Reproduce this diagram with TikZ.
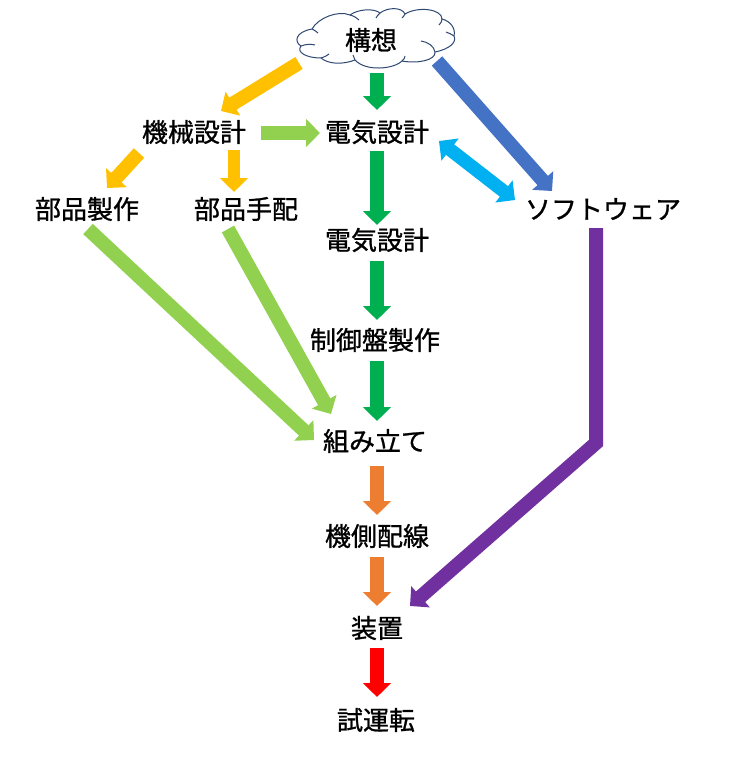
\documentclass[tikz,border=0pt]{standalone}
\usepackage{fontspec}
\setmainfont{Noto Sans CJK JP}[FakeBold=1]
\usetikzlibrary{arrows.meta}
\definecolor{cyellow}{RGB}{255,192,0}
\definecolor{cgreen}{RGB}{0,176,80}
\definecolor{clime}{RGB}{146,208,80}
\definecolor{cblue}{RGB}{68,114,196}
\definecolor{csky}{RGB}{0,176,240}
\definecolor{cpurple}{RGB}{112,48,160}
\definecolor{corange}{RGB}{237,125,49}
\definecolor{cred}{RGB}{255,0,0}
\definecolor{cloudline}{RGB}{47,72,115}
\tikzset{
  x=0.75pt,y=-0.75pt,
  label text/.style={inner sep=0pt,font=\fontsize{19.5pt}{22pt}\selectfont,text=black},
  fat arrow/.style={line width=10.5pt,line join=miter,-{Triangle[length=10.5pt,width=20.5pt]}},
  fat both/.style={line width=10pt,{Triangle[length=10.5pt,width=20.5pt]}-{Triangle[length=10.5pt,width=20.5pt]}},
  cloud line/.style={draw=cloudline,line width=0.75pt,fill=white}
}
\begin{document}
\begin{tikzpicture}
\useasboundingbox (0,0) rectangle (746,758);
% cloud
\filldraw[cloud line] (312,29)
  .. controls (318,18) and (338,10) .. (350,15)
  .. controls (358,9) and (374,8) .. (380,13)
  .. controls (388,7) and (402,7) .. (405,14)
  .. controls (418,6) and (442,9) .. (442,19)
  .. controls (450,21) and (456,28) .. (454,36)
  .. controls (457,42) and (450,49) .. (435,52)
  .. controls (436,60) and (418,64) .. (402,61)
  .. controls (394,69) and (366,72) .. (355,60)
  .. controls (342,65) and (328,64) .. (321,58)
  .. controls (306,58) and (296,52) .. (301,46)
  .. controls (294,42) and (295,32) .. (312,29) -- cycle;
\draw[cloud line,fill=none] (312,29) .. controls (314,30) and (316,31) .. (318,33);
\draw[cloud line,fill=none] (301,46) .. controls (306,44) and (311,44) .. (315,45);
\draw[cloud line,fill=none] (321,58) .. controls (324,57) and (327,56) .. (329,54);
\draw[cloud line,fill=none] (355,60) .. controls (354,58) and (354,57) .. (353,55);
\draw[cloud line,fill=none] (402,61) .. controls (404,59) and (405,58) .. (405,56);
\draw[cloud line,fill=none] (435,52) .. controls (434,46) and (428,42) .. (421,41);
\draw[cloud line,fill=none] (454,36) .. controls (451,34) and (449,33) .. (446,32);
\draw[cloud line,fill=none] (442,19) .. controls (442,21) and (441,23) .. (439,25);
\draw[cloud line,fill=none] (405,14) .. controls (404,16) and (403,17) .. (402,18);
\draw[cloud line,fill=none] (380,13) .. controls (378,15) and (377,16) .. (376,18);
\draw[cloud line,fill=none] (350,15) .. controls (354,16) and (357,18) .. (359,20);
% nodes
\node[label text] (kousou) at (371,40) {構想};
\node[label text] (kikai) at (194,132) {機械設計};
\node[label text] (denki) at (377,132) {電気設計};
\node[label text] (seisaku) at (87,209) {部品製作};
\node[label text] (tehai) at (246,209) {部品手配};
\node[label text] (soft) at (603,209) {ソフトウェア};
\node[label text] (denki2) at (377,240) {電気設計};
\node[label text] (seigyo) at (375,340) {制御盤製作};
\node[label text] (kumi) at (375,441) {組み立て};
\node[label text] (kisoku) at (377,536) {機側配線};
\node[label text] (souchi) at (377,628) {装置};
\node[label text] (shiunten) at (376,720) {試運転};
% connectors: (offsets in px from node centres)
\draw[fat arrow,cyellow] ([shift={(-72,23)}]kousou.center) -- ([shift={(27,-21)}]kikai.center);
\draw[fat arrow,cgreen] ([shift={(6,33)}]kousou.center) -- ([shift={(0,-22)}]denki.center);
\draw[fat arrow,cblue] ([shift={(66,21)}]kousou.center) -- ([shift={(-51,-18)}]soft.center);
\draw[fat arrow,cyellow] ([shift={(-55,21)}]kikai.center) -- ([shift={(20,-21)}]seisaku.center);
\draw[fat arrow,cyellow,line width=9pt] ([shift={(40,18)}]kikai.center) -- ([shift={(-12,-17)}]tehai.center);
\draw[fat arrow,clime] ([shift={(67,1)}]kikai.center) -- ([shift={(-57,1)}]denki.center);
\draw[fat both,csky] ([shift={(62,9)}]denki.center) -- ([shift={(-88,-9)}]soft.center);
\draw[fat arrow,cgreen] ([shift={(0,19)}]denki.center) -- ([shift={(0,-15)}]denki2.center);
\draw[fat arrow,cgreen] ([shift={(0,21)}]denki2.center) -- ([shift={(2,-20)}]seigyo.center);
\draw[fat arrow,cgreen] ([shift={(2,21)}]seigyo.center) -- ([shift={(2,-20)}]kumi.center);
\draw[fat arrow,clime] ([shift={(1,20)}]seisaku.center) -- ([shift={(-61,-1)}]kumi.center);
\draw[fat arrow,clime] ([shift={(-18,20)}]tehai.center) -- ([shift={(-44,-27)}]kumi.center);
\draw[fat arrow,corange] ([shift={(2,25)}]kumi.center) -- ([shift={(0,-21)}]kisoku.center);
\draw[fat arrow,corange] ([shift={(0,21)}]kisoku.center) -- ([shift={(0,-22)}]souchi.center);
\draw[fat arrow,cred] ([shift={(0,20)}]souchi.center) -- ([shift={(1,-23)}]shiunten.center);
\coordinate (bend) at (596,443);
\draw[fat arrow,cpurple] ([shift={(-7,19)}]soft.center) -- (bend) -- ([shift={(33,-22)}]souchi.center);
\end{tikzpicture}
\end{document}
